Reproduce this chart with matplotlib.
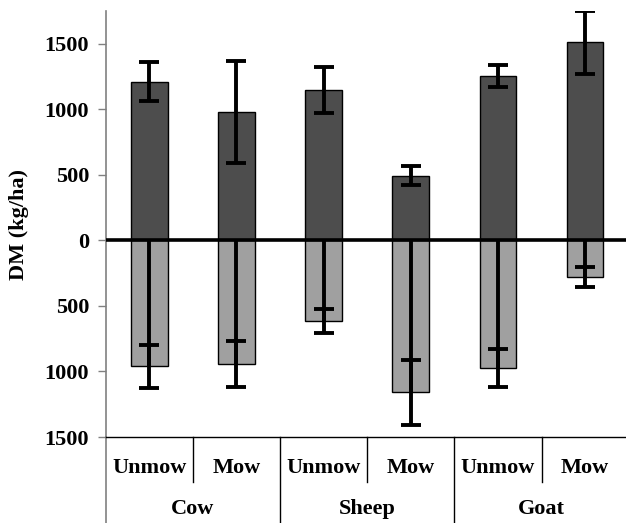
import matplotlib.pyplot as plt
from matplotlib.ticker import FixedLocator

plt.rcParams['font.family'] = ['Liberation Serif', 'DejaVu Serif']
plt.rcParams['font.weight'] = 'bold'

# Datos
animales = ['Cow', 'Sheep', 'Goat']
tratamientos = ['Unmow', 'Mow', 'Unmow', 'Mow', 'Unmow', 'Mow']
arriba = [1210, 980, 1145, 495, 1255, 1510]
arriba_err = [150, 390, 175, 70, 85, 240]
abajo = [960, 945, 615, 1160, 975, 280]
abajo_err = [165, 175, 92, 245, 145, 77]

x = list(range(len(tratamientos)))
neg = [-v for v in abajo]

fig = plt.figure(figsize=(6.26, 5.23), dpi=100)
ax = fig.add_axes([105.7 / 626, 1 - 437 / 523, 523 / 626, 426 / 523])

ancho = 0.42
ax.bar(x, arriba, width=ancho, color='#4d4d4d', edgecolor='black', linewidth=1, zorder=2)
ax.bar(x, neg, width=ancho, color='#a0a0a0', edgecolor='black', linewidth=1, zorder=2)

# barras de error
ax.errorbar(x, arriba, yerr=arriba_err, fmt='none', ecolor='black',
            elinewidth=2.8, capsize=7, capthick=2.8, zorder=3)
ax.errorbar(x, neg, yerr=abajo_err, fmt='none', ecolor='black',
            elinewidth=2.8, capsize=7, capthick=2.8, zorder=3)
ax.vlines(x, 0, neg, color='black', linewidth=2.8, zorder=3)

ax.axhline(0, color='black', linewidth=2.6, zorder=4)

ax.set_xlim(-0.5, 5.5)
ax.set_ylim(-1500, 1750)
ticks = [-1500, -1000, -500, 0, 500, 1000, 1500]
ax.yaxis.set_major_locator(FixedLocator(ticks))
ax.set_yticklabels([str(abs(t)) for t in ticks])
ax.tick_params(axis='y', length=6, width=1, color='#808080', labelsize=16, pad=6)
ax.set_xticks([])

for s in ['top', 'right']:
    ax.spines[s].set_visible(False)
ax.spines['left'].set_color('#808080')
ax.spines['left'].set_linewidth(1.2)
ax.spines['bottom'].set_color('black')
ax.spines['bottom'].set_linewidth(1)

ax.set_ylabel('DM (kg/ha)', fontsize=16, fontweight='bold', labelpad=11)

# ejes de categorias en dos niveles
tr = ax.get_xaxis_transform()
ax.plot([-0.5, -0.5], [0, -0.21], transform=tr, color='#808080', linewidth=1.2, clip_on=False)
for i, t in enumerate(tratamientos):
    ax.text(i, -0.072, t, transform=tr, ha='center', va='center', fontsize=16, fontweight='bold')
    if i % 2 == 0:
        ax.plot([i + 0.5, i + 0.5], [0, -0.105], transform=tr, color='black', linewidth=1, clip_on=False)
for j, a in enumerate(animales):
    ax.text(2 * j + 0.5, -0.168, a, transform=tr, ha='center', va='center', fontsize=16, fontweight='bold')
    if j > 0:
        ax.plot([2 * j - 0.5, 2 * j - 0.5], [0, -0.21], transform=tr, color='black', linewidth=1, clip_on=False)

fig.savefig('out.png', dpi=100)
